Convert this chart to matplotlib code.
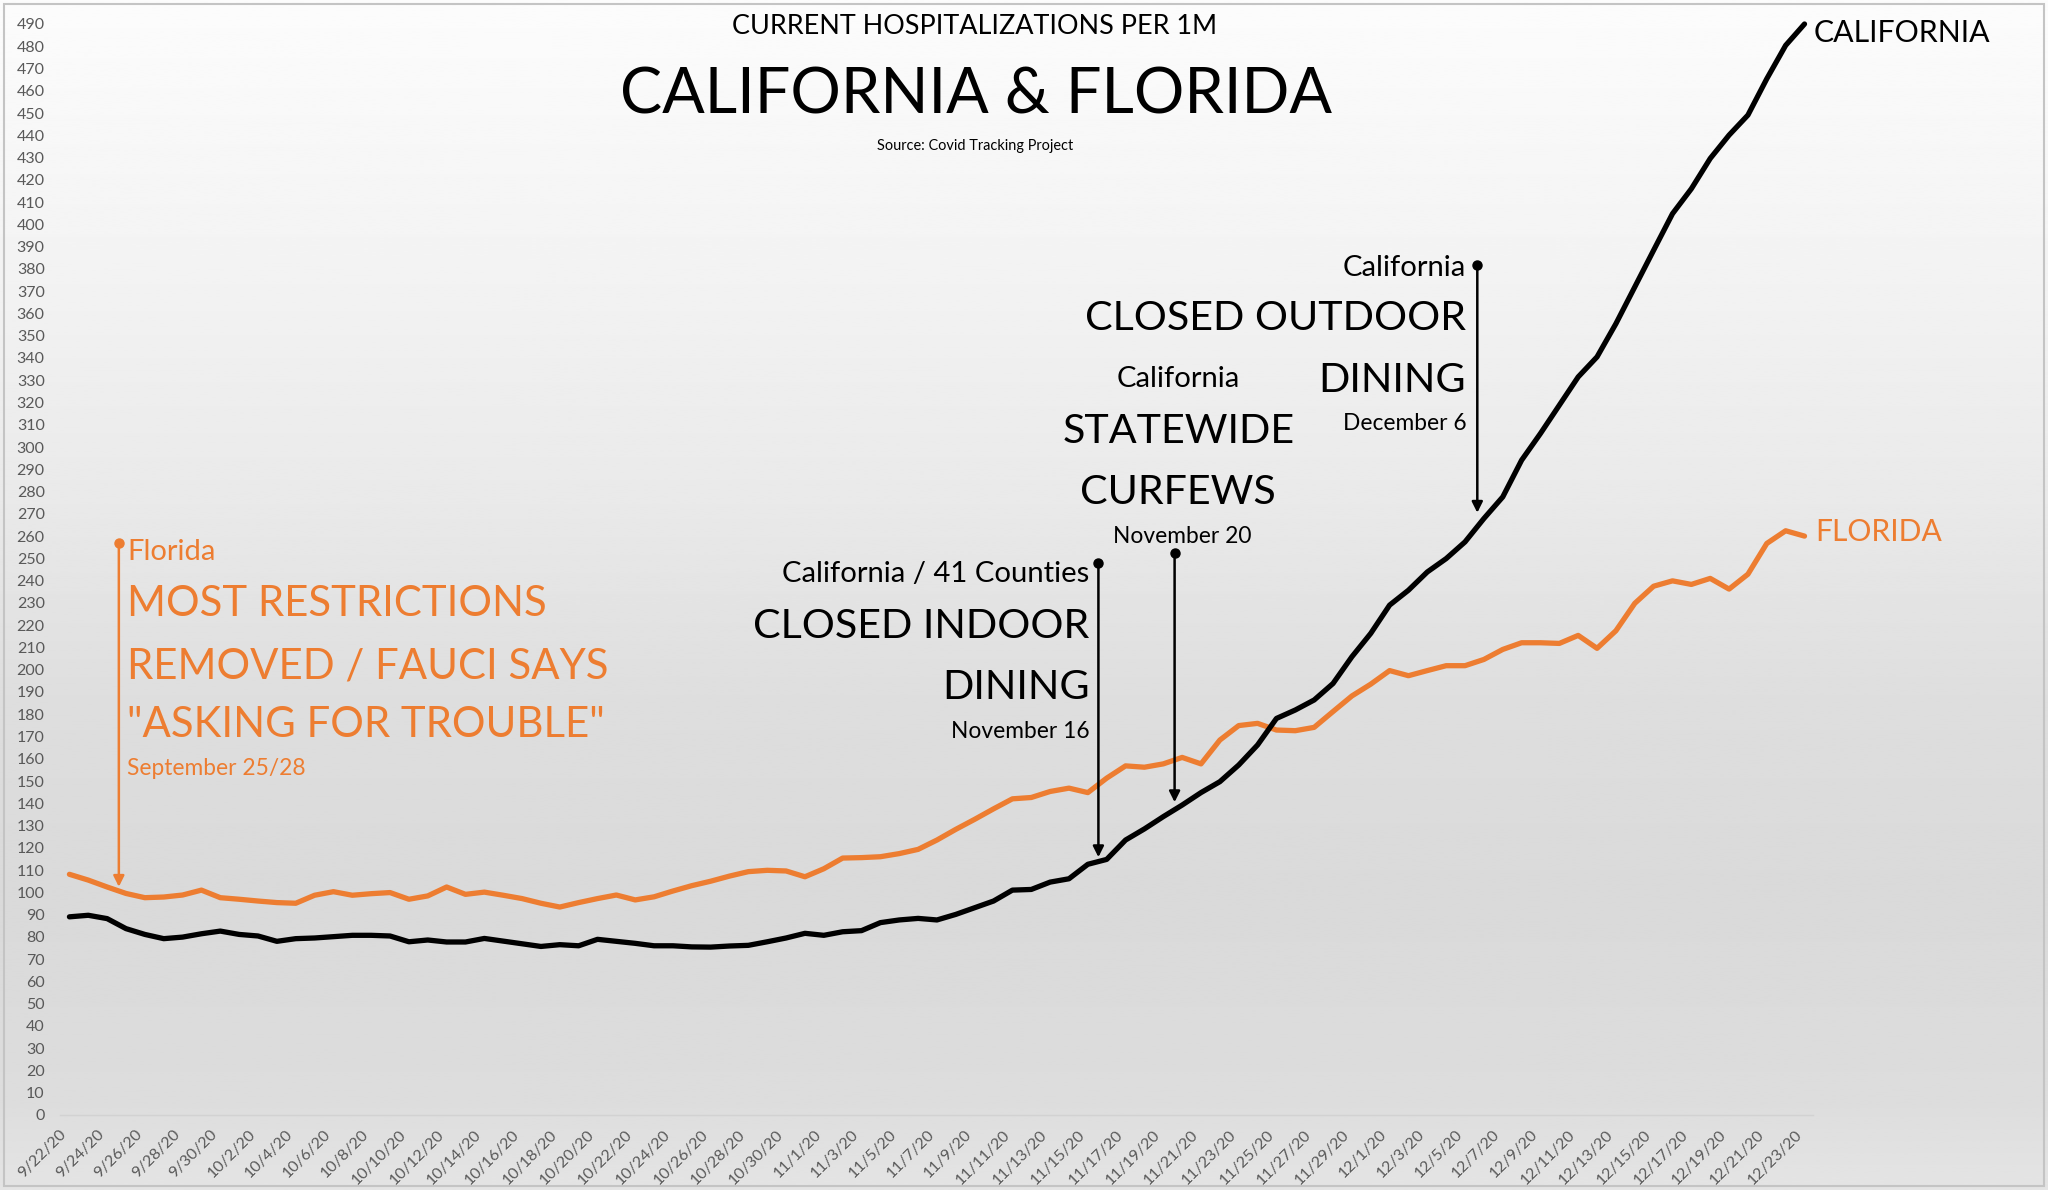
import numpy as np
import pandas as pd
import matplotlib
matplotlib.use("Agg")
import matplotlib.pyplot as plt

# ---------------- data ----------------
dates = pd.date_range("2020-09-22", "2020-12-23", freq="D")
date_labels = [f"{d.month}/{d.day}/{d.year % 100}" for d in dates]

california = [89.0, 89.7, 88.2, 83.7, 81.1, 79.2, 79.9, 81.4, 82.6, 81.1,
              80.4, 78.0, 79.2, 79.5, 80.1, 80.7, 80.7, 80.4, 77.8, 78.6,
              77.7, 77.7, 79.3, 78.1, 76.9, 75.7, 76.5, 76.0, 78.9, 78.0,
              77.1, 76.0, 76.0, 75.5, 75.4, 75.9, 76.2, 77.8, 79.5, 81.6,
              80.7, 82.3, 82.8, 86.4, 87.6, 88.3, 87.6, 90.1, 93.1, 96.1,
              101.0, 101.3, 104.6, 106.1, 112.6, 114.8, 123.5, 128.5, 134.0, 139.2,
              144.8, 149.7, 157.2, 166.2, 178.1, 181.9, 186.4, 193.8, 205.8, 216.3,
              229.0, 235.7, 243.9, 249.9, 257.4, 267.9, 277.6, 294.1, 306.1, 318.8,
              331.5, 340.5, 355.4, 371.9, 388.4, 404.8, 416.0, 429.6, 440.1, 449.1,
              465.4, 480.4, 490.0]

florida = [108.1, 105.5, 102.4, 99.5, 97.6, 97.9, 98.8, 101.0, 97.6, 96.9,
           96.1, 95.4, 95.1, 98.7, 100.3, 98.7, 99.4, 99.9, 96.9, 98.4,
           102.4, 99.1, 100.1, 98.7, 97.2, 95.1, 93.4, 95.4, 97.2, 98.8,
           96.6, 98.0, 100.6, 103.0, 105.0, 107.3, 109.3, 109.9, 109.6, 107.0,
           110.6, 115.4, 115.6, 116.0, 117.4, 119.3, 123.5, 128.3, 132.8, 137.5,
           142.0, 142.6, 145.3, 146.8, 144.8, 151.3, 156.8, 156.2, 157.7, 160.6,
           157.7, 168.4, 174.9, 175.9, 172.9, 172.6, 174.1, 181.2, 188.2, 193.5,
           199.6, 197.3, 199.6, 201.8, 201.8, 204.6, 209.1, 212.1, 212.1, 211.8,
           215.4, 209.6, 217.5, 229.8, 237.5, 239.9, 238.3, 241.0, 236.2, 242.9,
           256.7, 262.4, 260.0]

y_ticks = list(range(0, 500, 10))

ORANGE = "#ED7D31"
BLACK = "#000000"
GRAY = "#595959"
FONT = ["Lato", "DejaVu Sans"]

plt.rcParams["font.family"] = FONT

W, H = 2048, 1190
fig = plt.figure(figsize=(W / 100, H / 100), dpi=100)

# background gradient
bg = fig.add_axes([0, 0, 1, 1])
bg.set_zorder(0)
ys = np.array([0, 250, 500, 700, 900, 1100, 1190]) / H
vals = np.array([0.988, 0.955, 0.915, 0.87, 0.853, 0.865, 0.895])
grid_y = np.linspace(0, 1, 400)
col = np.interp(grid_y, ys, vals)
img = np.repeat(col[:, None], 2, axis=1)
bg.imshow(img, cmap="gray", vmin=0, vmax=1, aspect="auto", extent=[0, 1, 1, 0])
bg.set_xlim(0, 1)
bg.set_ylim(1, 0)
bg.axis("off")
bg.add_patch(plt.Rectangle((0.002, 0.003), 0.996, 0.994, fill=False,
                           edgecolor="#c4c4c4", lw=1.5, transform=bg.transAxes))

ax = fig.add_axes([60 / W, 1 - 1115 / H, (1813 - 60) / W, (1115 - 24) / H])
ax.set_zorder(1)
ax.patch.set_alpha(0)

x = np.arange(len(dates))
ax.plot(x, florida, color=ORANGE, lw=3.8, solid_joinstyle="round",
        solid_capstyle="round", clip_on=False, zorder=3)
ax.plot(x, california, color=BLACK, lw=3.8, solid_joinstyle="round",
        solid_capstyle="round", clip_on=False, zorder=4)

ax.set_xlim(-0.5, 92.45)
ax.set_ylim(0, 490)
ax.set_yticks(y_ticks)
ax.set_yticklabels([str(v) for v in y_ticks], color=GRAY, fontsize=11.5)
ax.set_xticks(x[::2])
ax.set_xticklabels(date_labels[::2], rotation=45, ha="right", color=GRAY,
                   fontsize=11.5)
ax.tick_params(axis="both", length=0)
ax.tick_params(axis="y", pad=11)
ax.tick_params(axis="x", pad=9)
for s in ["top", "right", "left"]:
    ax.spines[s].set_visible(False)
ax.spines["bottom"].set_color("#d2d2d2")
ax.spines["bottom"].set_linewidth(1.0)

fig.canvas.draw()
renderer = fig.canvas.get_renderer()


def fit(t, width_px):
    w = t.get_window_extent(renderer).width
    t.set_fontsize(t.get_fontsize() * width_px / w)
    return t.get_fontsize()


# titles (figure coords)
t1 = fig.text(975 / W, 1 - 27 / H, "CURRENT HOSPITALIZATIONS PER 1M",
              ha="center", va="center", fontsize=20, color=BLACK)
fit(t1, 484)
t2 = fig.text(976 / W, 1 - 96 / H, "CALIFORNIA & FLORIDA",
              ha="center", va="center", fontsize=50, color=BLACK)
fit(t2, 713)
t3 = fig.text(975 / W, 1 - 146 / H, "Source: Covid Tracking Project",
              ha="center", va="center", fontsize=10, color=BLACK)
fit(t3, 197)


def atext(xv, yv, s, color, ha="left", size=12):
    return ax.text(xv, yv, s, color=color, ha=ha, va="center", fontsize=size,
                   clip_on=False, zorder=6)


def arrow(xv, ytop, ybot, color):
    ax.annotate("", xy=(xv, ybot), xytext=(xv, ytop),
                arrowprops=dict(arrowstyle="-|>", lw=1.8, color=color,
                                mutation_scale=16, shrinkA=0, shrinkB=0),
                zorder=6, annotation_clip=False)
    ax.plot([xv], [ytop], "o", color=color, ms=6.5, clip_on=False, zorder=6)


# Florida annotation
fl_small = atext(3.05, 253, "Florida", ORANGE)
s_small = fit(fl_small, 88)
fl_big = atext(3.05, 229.5, "MOST RESTRICTIONS", ORANGE, size=30)
s_big = fit(fl_big, 418)
atext(3.05, 201.5, "REMOVED / FAUCI SAYS", ORANGE, size=s_big)
atext(3.05, 175.0, "\"ASKING FOR TROUBLE\"", ORANGE, size=s_big)
fl_date = atext(3.05, 155.5, "September 25/28", ORANGE)
s_date = fit(fl_date, 177)
arrow(2.62, 256.8, 102.5, ORANGE)

# California: indoor dining
c1 = atext(54.1, 243.2, "California / 41 Counties", BLACK, ha="right")
s_small_b = fit(c1, 306)
c2 = atext(54.1, 219.5, "CLOSED INDOOR", BLACK, ha="right", size=30)
s_big_b = fit(c2, 335)
atext(54.1, 191.8, "DINING", BLACK, ha="right", size=s_big_b)
atext(54.1, 172.2, "November 16", BLACK, ha="right", size=s_date)
arrow(54.56, 247.7, 115.8, BLACK)

# California: curfews
atext(58.8, 330.4, "California", BLACK, ha="center", size=s_small_b)
atext(58.8, 307.0, "STATEWIDE", BLACK, ha="center", size=s_big_b)
atext(58.8, 279.4, "CURFEWS", BLACK, ha="center", size=s_big_b)
atext(59.0, 259.9, "November 20", BLACK, ha="center", size=s_date)
arrow(58.6, 252.2, 140.5, BLACK)

# California: outdoor dining
atext(74.07, 380.4, "California", BLACK, ha="right", size=s_small_b)
atext(74.07, 357.8, "CLOSED OUTDOOR", BLACK, ha="right", size=s_big_b)
atext(74.07, 330.0, "DINING", BLACK, ha="right", size=s_big_b)
atext(74.07, 310.4, "December 6", BLACK, ha="right", size=s_date)
arrow(74.65, 381.7, 270.5, BLACK)

# series end labels
e1 = atext(92.5, 486.0, "CALIFORNIA", BLACK)
fit(e1, 176)
e2 = atext(92.55, 262.0, "FLORIDA", ORANGE)
fit(e2, 126)

fig.savefig("out.png", dpi=100)
